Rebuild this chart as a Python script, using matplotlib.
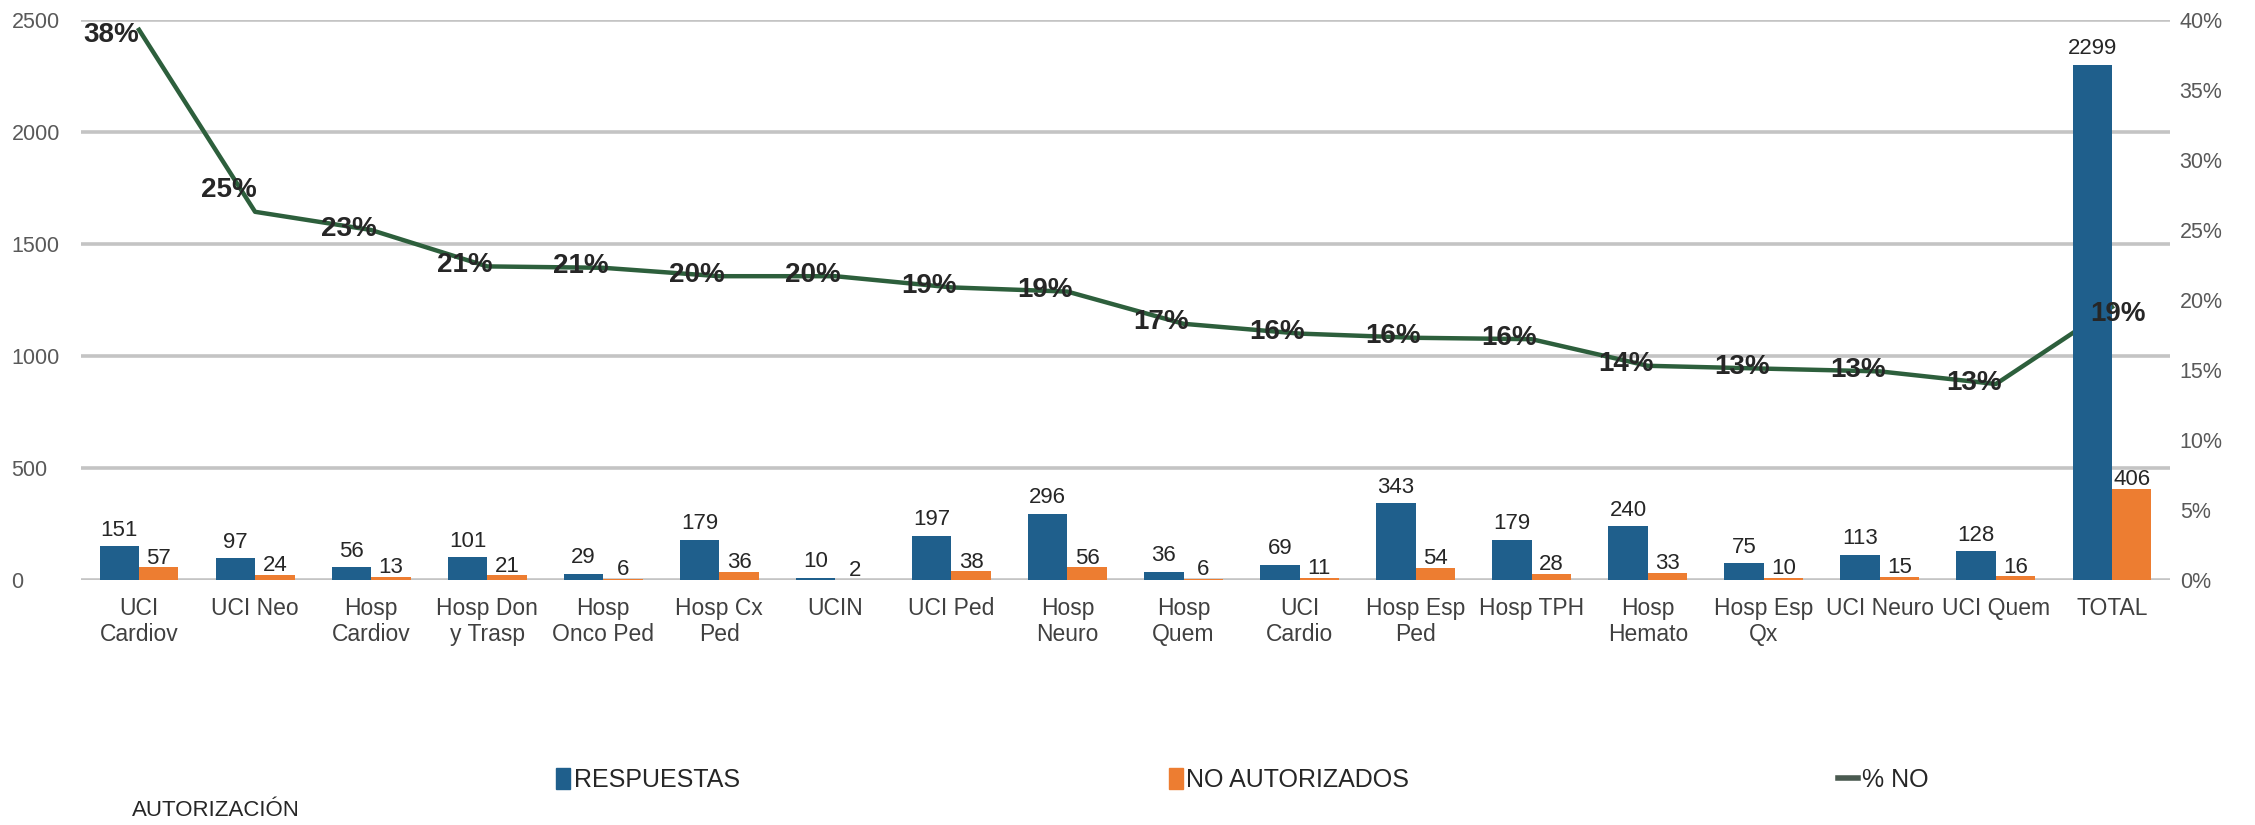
import matplotlib.pyplot as plt
from matplotlib.patches import Patch
from matplotlib.lines import Line2D
import numpy as np

# data
categories = ['UCI\nCardiov', 'UCI Neo', 'Hosp\nCardiov', 'Hosp Don\ny Trasp', 'Hosp\nOnco Ped',
              'Hosp Cx\nPed', 'UCIN', 'UCI Ped', 'Hosp\nNeuro', 'Hosp\nQuem', 'UCI\nCardio',
              'Hosp Esp\nPed', 'Hosp TPH', 'Hosp\nHemato', 'Hosp Esp\nQx', 'UCI Neuro',
              'UCI Quem', 'TOTAL']
respuestas = [151, 97, 56, 101, 29, 179, 10, 197, 296, 36, 69, 343, 179, 240, 75, 113, 128, 2299]
no_autorizados = [57, 24, 13, 21, 6, 36, 2, 38, 56, 6, 11, 54, 28, 33, 10, 15, 16, 406]
pct_no = [39.3, 26.3, 25.0, 22.4, 22.3, 21.7, 21.7, 20.9, 20.6, 18.3, 17.6, 17.3, 17.2,
          15.3, 15.1, 14.9, 14.0, 19.5]
pct_labels = ['38%', '25%', '23%', '21%', '21%', '20%', '20%', '19%', '19%', '17%', '16%',
              '16%', '16%', '14%', '13%', '13%', '13%', '19%']

plt.rcParams['font.family'] = ['Liberation Sans', 'DejaVu Sans']

blue = '#1f5f8c'
orange = '#ed7d31'
green = '#2d5f3c'
txt = '#262626'

W, H = 2255, 825
fig = plt.figure(figsize=(W / 100, H / 100), dpi=100)
ax = fig.add_axes([81 / W, 245 / H, (2170 - 81) / W, (580 - 20) / H])

x = np.arange(len(categories))
w = 0.34

def to_left(p):
    return np.asarray(p) * 2500 / 40

def to_right(v):
    return np.asarray(v) * 40 / 2500

ax.set_xlim(-0.5, len(categories) - 0.5)
ax.set_ylim(0, 2500)
ax.set_yticks(range(0, 2501, 500))
ax.yaxis.grid(True, color='#c4c4c4', lw=2.6)
ax.set_axisbelow(True)
for s in ax.spines.values():
    s.set_visible(False)

ax.plot(x, to_left(pct_no), color=green, lw=3.2, zorder=1.5, solid_joinstyle='round')
ax.bar(x - w / 2, respuestas, w, color=blue, zorder=2)
ax.bar(x + w / 2, no_autorizados, w, color=orange, zorder=2)

# value labels
for xi, v in zip(x, respuestas):
    ax.annotate(str(v), (xi - w / 2, v), xytext=(0, 4), textcoords='offset points',
                ha='center', va='bottom', fontsize=16, color=txt, zorder=3)
for xi, v in zip(x, no_autorizados):
    ax.annotate(str(v), (xi + w / 2, v), xytext=(0, -1), textcoords='offset points',
                ha='center', va='bottom', fontsize=16, color=txt, zorder=3)

offsets = {0: (-20, -4), 1: (-19, 16), 17: (4, -5)}
for i, (xi, p, lbl) in enumerate(zip(x, pct_no, pct_labels)):
    ax.annotate(lbl, (xi, to_left(p)), xytext=offsets.get(i, (-16, 1)),
                textcoords='offset points', ha='center', va='center',
                fontsize=20, fontweight='bold', color=txt, zorder=4)

# axes ticks
ax.set_xticks(x)
ax.set_xticklabels(categories, fontsize=16.5, color='#404040', linespacing=1.2)
ax.tick_params(axis='x', length=0, pad=12)
ax.tick_params(axis='y', length=0, pad=50, labelsize=15.5, labelcolor='#595959')
for t in ax.get_yticklabels():
    t.set_horizontalalignment('left')

sec = ax.secondary_yaxis('right', functions=(to_right, to_left))
sec.set_yticks(range(0, 41, 5))
sec.yaxis.set_major_formatter(lambda v, p: f'{v:.0f}%')
sec.tick_params(length=0, pad=7, labelsize=15.5, labelcolor='#595959')
for s in sec.spines.values():
    s.set_visible(False)

# legend
items = [
    (Patch(color=blue), 'RESPUESTAS', 556, 0.55),
    (Patch(color=orange), 'NO AUTORIZADOS', 1169, 0.55),
    (Line2D([], [], color='#4a5a50', lw=4), '% NO', 1838, 0.8),
]
for h, lab, px, hl in items:
    fig.legend([h], [lab], loc='center left', bbox_to_anchor=(px / W, 1 - 780 / H),
               frameon=False, fontsize=18, handlelength=hl, handleheight=0.9,
               handletextpad=0.15, borderpad=0, borderaxespad=0, labelcolor=txt)

fig.text(132 / W, 1 - 810 / H, 'AUTORIZACIÓN', fontsize=16, color=txt,
         ha='left', va='center')

fig.savefig('out.png', dpi=100)
